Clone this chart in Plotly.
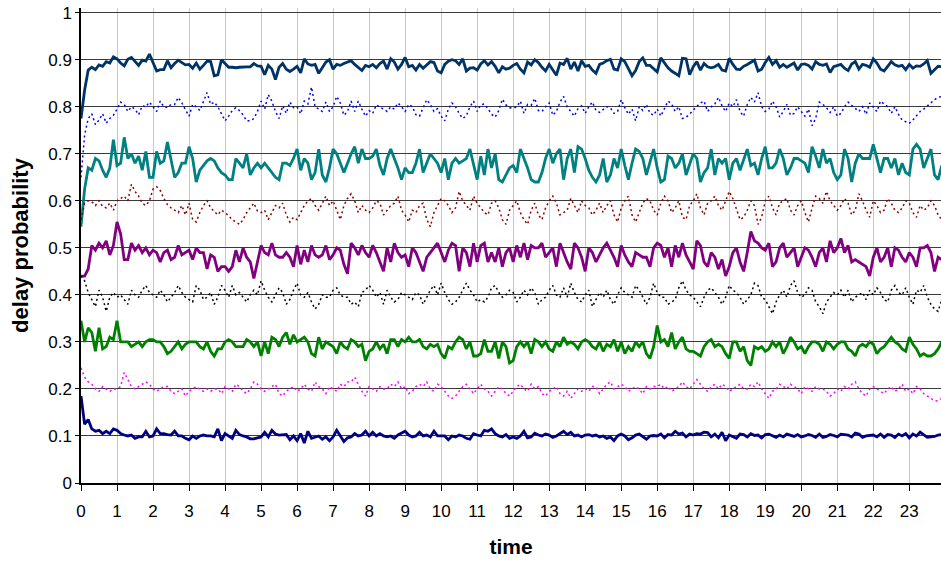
import plotly.graph_objects as go

# sampling instants: ten per hour over a day
time = [i / 10 for i in range(240)]

s_090 = [
    .775, .835, .878, .884, .879, .889, .886, .896, .893, .906,
    .902, .893, .887, .901, .905, .896, .888, .899, .897, .912,
    .893, .876, .879, .879, .898, .883, .892, .899, .894, .889,
    .890, .882, .893, .880, .888, .897, .896, .866, .868, .900,
    .892, .884, .884, .883, .884, .885, .885, .885, .892, .887,
    .886, .868, .888, .880, .858, .884, .892, .880, .875, .880,
    .886, .872, .902, .891, .888, .890, .871, .883, .895, .900,
    .880, .890, .888, .892, .895, .898, .890, .884, .877, .888,
    .885, .890, .883, .892, .897, .880, .902, .895, .880, .890,
    .905, .885, .888, .878, .890, .882, .888, .896, .894, .876,
    .872, .890, .897, .900, .898, .890, .902, .876, .882, .883,
    .878, .891, .898, .889, .896, .886, .872, .885, .880, .882,
    .888, .892, .880, .872, .895, .889, .900, .894, .884, .876,
    .890, .878, .867, .893, .890, .903, .880, .895, .876, .898,
    .886, .888, .878, .871, .890, .893, .898, .901, .880, .878,
    .902, .896, .882, .866, .877, .896, .904, .888, .888, .880,
    .874, .904, .893, .883, .876, .870, .866, .903, .902, .868,
    .885, .896, .878, .892, .885, .883, .885, .890, .878, .876,
    .903, .890, .880, .879, .886, .890, .895, .899, .876, .880,
    .894, .905, .890, .898, .884, .890, .884, .888, .893, .878,
    .890, .891, .888, .880, .896, .890, .888, .891, .873, .885,
    .888, .890, .882, .877, .891, .896, .880, .890, .888, .884,
    .902, .893, .880, .876, .886, .896, .889, .886, .888, .879,
    .890, .882, .887, .886, .891, .898, .871, .879, .886, .885,
]

s_080 = [
    .650, .740, .775, .785, .762, .772, .785, .765, .775, .782,
    .795, .810, .805, .790, .800, .795, .783, .802, .800, .810,
    .800, .790, .812, .800, .798, .805, .805, .820, .808, .795,
    .780, .805, .800, .792, .810, .830, .805, .810, .800, .786,
    .770, .780, .792, .798, .792, .783, .770, .770, .775, .790,
    .812, .795, .826, .812, .790, .775, .802, .786, .810, .798,
    .800, .785, .812, .806, .842, .800, .795, .790, .810, .790,
    .800, .822, .808, .782, .790, .812, .790, .812, .795, .780,
    .792, .786, .804, .800, .795, .790, .800, .795, .808, .800,
    .790, .805, .800, .783, .780, .798, .815, .805, .790, .796,
    .780, .770, .795, .808, .800, .786, .775, .781, .800, .812,
    .790, .804, .806, .796, .784, .778, .792, .816, .804, .798,
    .797, .800, .812, .786, .805, .803, .818, .792, .790, .800,
    .808, .782, .790, .810, .822, .800, .790, .780, .796, .802,
    .786, .800, .810, .792, .788, .795, .800, .798, .786, .790,
    .815, .798, .784, .795, .770, .800, .792, .805, .786, .782,
    .795, .780, .798, .812, .806, .790, .800, .775, .778, .784,
    .793, .800, .808, .812, .790, .800, .806, .820, .802, .790,
    .808, .800, .815, .790, .780, .805, .820, .810, .830, .800,
    .790, .795, .812, .800, .778, .790, .805, .782, .786, .800,
    .790, .780, .795, .760, .775, .810, .805, .798, .788, .800,
    .780, .786, .800, .810, .803, .796, .790, .800, .784, .808,
    .798, .790, .812, .805, .800, .786, .800, .784, .772, .768,
    .765, .772, .780, .790, .795, .802, .808, .815, .820, .822,
]

s_070 = [
    .545, .625, .670, .665, .690, .685, .665, .650, .670, .730,
    .675, .680, .735, .690, .700, .680, .695, .665, .705, .650,
    .650, .705, .680, .685, .725, .685, .650, .660, .680, .680,
    .715, .690, .640, .665, .675, .685, .690, .685, .670, .660,
    .655, .645, .645, .690, .680, .670, .700, .655, .670, .680,
    .670, .680, .670, .660, .650, .645, .680, .680, .675, .690,
    .710, .665, .690, .680, .645, .660, .710, .655, .640, .670,
    .710, .700, .680, .660, .680, .700, .715, .680, .710, .690,
    .690, .695, .710, .675, .655, .690, .710, .690, .670, .645,
    .670, .660, .660, .680, .710, .660, .680, .700, .690, .680,
    .660, .690, .645, .680, .690, .680, .685, .690, .710, .680,
    .645, .695, .655, .710, .670, .700, .645, .640, .655, .670,
    .675, .660, .710, .690, .670, .645, .640, .640, .660, .690,
    .710, .680, .700, .710, .645, .690, .710, .660, .715, .710,
    .690, .665, .650, .640, .655, .690, .640, .655, .690, .670,
    .710, .675, .645, .680, .710, .705, .690, .655, .680, .710,
    .670, .640, .645, .695, .690, .670, .680, .700, .655, .680,
    .700, .690, .640, .660, .670, .710, .655, .690, .680, .690,
    .645, .680, .690, .665, .690, .710, .675, .680, .655, .690,
    .715, .670, .670, .680, .710, .690, .655, .670, .690, .690,
    .685, .680, .660, .715, .695, .670, .710, .680, .690, .660,
    .645, .655, .710, .690, .640, .680, .700, .690, .690, .690,
    .720, .690, .660, .690, .690, .670, .690, .655, .680, .660,
    .655, .710, .720, .710, .670, .690, .710, .655, .645, .675,
]

s_060 = [
    .560, .595, .600, .598, .590, .600, .588, .585, .595, .580,
    .600, .605, .610, .600, .635, .620, .610, .595, .590, .600,
    .625, .630, .622, .605, .592, .585, .580, .575, .590, .570,
    .595, .560, .555, .575, .590, .600, .585, .578, .570, .580,
    .575, .568, .560, .555, .550, .560, .575, .585, .595, .578,
    .575, .580, .560, .575, .590, .585, .595, .570, .555, .565,
    .560, .575, .590, .600, .605, .590, .580, .595, .610, .590,
    .600, .580, .560, .590, .605, .615, .600, .575, .590, .580,
    .575, .585, .600, .595, .570, .580, .590, .595, .610, .580,
    .570, .555, .580, .575, .590, .595, .560, .545, .575, .590,
    .605, .600, .590, .575, .585, .620, .600, .590, .580, .610,
    .595, .585, .575, .570, .595, .600, .585, .560, .550, .580,
    .590, .600, .575, .560, .550, .580, .595, .570, .560, .585,
    .600, .610, .595, .570, .575, .580, .605, .590, .575, .600,
    .590, .585, .570, .580, .595, .575, .590, .600, .570, .555,
    .585, .600, .610, .570, .555, .575, .595, .605, .600, .580,
    .570, .595, .610, .600, .575, .585, .600, .565, .560, .590,
    .600, .615, .585, .570, .595, .600, .610, .590, .580, .600,
    .620, .605, .580, .560, .565, .580, .600, .590, .550, .565,
    .600, .610, .585, .570, .595, .600, .605, .580, .570, .590,
    .600, .575, .555, .585, .610, .605, .595, .620, .600, .590,
    .580, .590, .605, .595, .570, .580, .615, .600, .580, .565,
    .600, .590, .575, .580, .605, .595, .580, .575, .585, .600,
    .595, .575, .565, .590, .580, .585, .600, .590, .570, .560,
]

s_050 = [
    .440, .440, .455, .505, .495, .510, .500, .515, .485, .505,
    .555, .530, .475, .475, .510, .495, .505, .490, .500, .485,
    .495, .490, .470, .490, .495, .475, .480, .505, .485, .490,
    .495, .475, .500, .490, .490, .455, .485, .480, .450, .460,
    .460, .450, .460, .495, .470, .500, .480, .470, .435, .470,
    .505, .490, .485, .510, .485, .480, .480, .490, .480, .460,
    .505, .465, .495, .470, .505, .485, .480, .485, .505, .475,
    .485, .500, .495, .465, .445, .510, .500, .485, .505, .490,
    .480, .505, .490, .470, .450, .500, .470, .510, .490, .480,
    .485, .460, .500, .490, .470, .450, .480, .490, .500, .510,
    .490, .470, .495, .510, .505, .450, .500, .490, .460, .510,
    .470, .505, .510, .470, .490, .470, .500, .460, .490, .500,
    .470, .505, .480, .510, .475, .505, .500, .500, .510, .480,
    .490, .500, .460, .510, .490, .470, .455, .510, .500, .480,
    .450, .500, .490, .470, .485, .500, .510, .495, .480, .460,
    .505, .485, .470, .460, .490, .485, .480, .480, .460, .500,
    .510, .505, .480, .500, .460, .505, .480, .510, .485, .470,
    .455, .515, .505, .470, .460, .490, .480, .455, .475, .440,
    .460, .490, .500, .470, .450, .490, .535, .515, .510, .500,
    .495, .510, .460, .470, .500, .510, .480, .490, .500, .460,
    .480, .500, .495, .480, .460, .490, .500, .470, .515, .490,
    .500, .520, .490, .505, .470, .475, .470, .465, .460, .440,
    .480, .500, .470, .480, .500, .460, .500, .495, .480, .470,
    .490, .480, .460, .500, .500, .505, .490, .450, .480, .475,
]

s_040 = [
    .440, .430, .405, .390, .375, .410, .395, .365, .395, .405,
    .395, .400, .390, .380, .410, .400, .395, .410, .420, .405,
    .400, .395, .410, .400, .385, .395, .405, .420, .405, .395,
    .390, .385, .420, .410, .390, .395, .405, .380, .395, .420,
    .410, .395, .420, .400, .405, .395, .385, .400, .410, .400,
    .430, .410, .395, .385, .400, .415, .405, .380, .390, .410,
    .425, .400, .395, .405, .385, .370, .380, .400, .395, .395,
    .410, .415, .400, .395, .395, .380, .385, .375, .405, .410,
    .420, .410, .395, .405, .380, .410, .395, .385, .390, .405,
    .400, .395, .390, .405, .400, .380, .395, .410, .420, .400,
    .425, .405, .390, .380, .385, .395, .410, .425, .410, .400,
    .385, .390, .385, .395, .415, .420, .405, .395, .400, .410,
    .405, .385, .395, .410, .400, .415, .405, .380, .390, .395,
    .410, .420, .400, .395, .415, .395, .425, .405, .390, .385,
    .400, .410, .375, .390, .405, .395, .410, .390, .380, .400,
    .415, .405, .400, .395, .420, .410, .395, .380, .395, .425,
    .405, .395, .395, .380, .385, .390, .415, .430, .410, .400,
    .395, .385, .375, .395, .410, .415, .405, .395, .380, .395,
    .420, .410, .405, .395, .380, .390, .400, .425, .420, .395,
    .390, .375, .360, .385, .400, .410, .395, .420, .430, .405,
    .395, .400, .415, .410, .385, .375, .360, .385, .395, .405,
    .400, .410, .395, .410, .385, .395, .400, .405, .390, .410,
    .400, .415, .405, .390, .385, .410, .420, .405, .400, .415,
    .395, .380, .410, .405, .420, .395, .380, .370, .365, .390,
]

s_030 = [
    .345, .300, .330, .320, .280, .330, .285, .290, .310, .305,
    .345, .300, .300, .300, .290, .295, .300, .290, .300, .305,
    .305, .300, .300, .290, .275, .280, .290, .300, .285, .295,
    .300, .300, .300, .290, .285, .300, .280, .270, .285, .285,
    .300, .305, .300, .290, .290, .290, .305, .300, .290, .300,
    .270, .300, .275, .310, .305, .290, .310, .320, .295, .315,
    .300, .305, .310, .300, .275, .270, .310, .285, .300, .295,
    .290, .275, .300, .290, .285, .305, .300, .290, .295, .260,
    .280, .285, .300, .285, .295, .275, .305, .305, .290, .305,
    .300, .310, .300, .300, .305, .290, .285, .295, .290, .295,
    .275, .265, .290, .285, .300, .310, .305, .285, .300, .270,
    .270, .275, .305, .280, .280, .300, .265, .300, .290, .255,
    .260, .290, .300, .290, .300, .275, .305, .300, .290, .300,
    .285, .280, .300, .290, .310, .295, .300, .295, .285, .300,
    .305, .300, .290, .285, .300, .280, .295, .290, .305, .280,
    .300, .275, .290, .280, .300, .290, .300, .275, .265, .290,
    .335, .300, .305, .290, .320, .285, .300, .310, .285, .280,
    .280, .275, .270, .290, .300, .305, .290, .295, .290, .275,
    .265, .300, .300, .280, .290, .260, .250, .290, .285, .290,
    .280, .285, .300, .290, .300, .275, .290, .310, .300, .285,
    .290, .275, .290, .300, .300, .295, .280, .300, .295, .285,
    .295, .300, .300, .285, .280, .270, .290, .295, .290, .300,
    .295, .275, .285, .290, .300, .310, .300, .295, .285, .280,
    .310, .295, .285, .270, .275, .270, .270, .275, .285, .300,
]

s_020 = [
    .245, .225, .215, .210, .200, .195, .205, .200, .195, .200,
    .200, .205, .235, .220, .205, .200, .205, .210, .215, .210,
    .200, .195, .200, .205, .205, .195, .190, .195, .200, .185,
    .195, .200, .205, .200, .195, .200, .195, .200, .200, .190,
    .205, .200, .195, .210, .205, .195, .190, .200, .215, .210,
    .200, .195, .200, .205, .210, .190, .185, .195, .200, .205,
    .195, .200, .210, .200, .195, .215, .205, .200, .190, .205,
    .200, .195, .210, .205, .215, .215, .225, .210, .195, .185,
    .205, .200, .195, .205, .200, .200, .210, .205, .215, .200,
    .205, .190, .195, .205, .210, .205, .215, .200, .195, .210,
    .205, .195, .185, .180, .185, .195, .205, .210, .200, .190,
    .200, .210, .200, .195, .185, .195, .205, .200, .190, .185,
    .195, .205, .210, .200, .195, .210, .200, .205, .190, .185,
    .195, .200, .205, .190, .185, .195, .180, .190, .200, .195,
    .200, .195, .205, .205, .190, .200, .210, .215, .200, .205,
    .210, .205, .195, .200, .205, .200, .190, .205, .200, .205,
    .205, .210, .200, .205, .195, .200, .205, .215, .205, .200,
    .210, .220, .210, .200, .195, .205, .210, .200, .210, .205,
    .195, .200, .205, .210, .200, .200, .210, .205, .215, .200,
    .190, .180, .195, .200, .210, .205, .200, .210, .205, .200,
    .190, .205, .200, .195, .205, .200, .200, .195, .185, .190,
    .200, .195, .205, .200, .210, .215, .200, .190, .185, .200,
    .205, .200, .195, .190, .200, .205, .195, .200, .210, .195,
    .200, .190, .205, .200, .190, .185, .180, .175, .175, .180,
]

s_010 = [
    .185, .125, .135, .115, .110, .112, .105, .110, .105, .115,
    .112, .105, .102, .100, .102, .095, .098, .098, .110, .098,
    .100, .115, .105, .105, .103, .102, .110, .100, .100, .095,
    .092, .100, .095, .100, .102, .100, .100, .098, .115, .090,
    .105, .100, .095, .112, .103, .100, .098, .094, .094, .096,
    .098, .108, .098, .112, .104, .102, .103, .103, .092, .100,
    .090, .105, .085, .110, .095, .098, .100, .093, .098, .090,
    .098, .112, .100, .088, .096, .098, .105, .100, .102, .110,
    .100, .108, .100, .105, .100, .098, .100, .095, .102, .106,
    .110, .102, .098, .100, .108, .100, .102, .098, .110, .100,
    .100, .100, .092, .100, .098, .102, .100, .095, .093, .105,
    .102, .100, .112, .110, .115, .105, .100, .098, .103, .095,
    .098, .095, .100, .110, .096, .098, .106, .102, .100, .104,
    .102, .097, .100, .106, .110, .103, .108, .100, .102, .098,
    .102, .103, .100, .102, .098, .100, .095, .098, .090, .100,
    .104, .100, .092, .096, .102, .104, .098, .093, .100, .101,
    .100, .104, .096, .103, .102, .110, .104, .106, .098, .104,
    .102, .105, .104, .108, .107, .098, .104, .096, .108, .090,
    .102, .098, .095, .104, .103, .098, .105, .101, .102, .096,
    .103, .104, .100, .097, .102, .098, .104, .101, .099, .103,
    .098, .100, .103, .101, .097, .104, .097, .099, .103, .101,
    .098, .104, .103, .102, .098, .106, .104, .097, .100, .101,
    .102, .098, .104, .097, .103, .102, .097, .104, .100, .105,
    .096, .104, .100, .108, .103, .097, .098, .099, .102, .103,
]

y_ticks = [i / 10 for i in range(11)]
y_labels = ["0", "0.1", "0.2", "0.3", "0.4", "0.5", "0.6", "0.7", "0.8", "0.9", "1"]
x_ticks = list(range(24))

series = [
    (s_090, "#003366", "solid", 2.8),
    (s_080, "#0000FF", "2px,3px", 1.5),
    (s_070, "#008080", "solid", 2.8),
    (s_060, "#8B0000", "2px,3px", 1.5),
    (s_050, "#800080", "solid", 2.8),
    (s_040, "#000000", "2px,3px", 1.5),
    (s_030, "#008000", "solid", 2.8),
    (s_020, "#FF00FF", "2px,3px", 1.5),
    (s_010, "#000080", "solid", 2.8),
]

fig = go.Figure()
for vals, color, dash, width in series:
    fig.add_trace(go.Scatter(
        x=time, y=vals, mode="lines",
        line=dict(color=color, dash=dash, width=width),
        showlegend=False,
    ))

font = "Liberation Sans, Arial, sans-serif"
fig.update_layout(
    width=941, height=563,
    margin=dict(l=81, r=0, t=8, b=80),
    paper_bgcolor="white", plot_bgcolor="white",
    font=dict(family=font, size=17, color="black"),
    xaxis=dict(
        range=[0, 23.88], tickvals=x_ticks, ticktext=[str(v) for v in x_ticks],
        showgrid=True, gridcolor="#c8c8c8", gridwidth=1,
        showline=True, linecolor="black", linewidth=1.5,
        ticks="outside", ticklen=6, tickcolor="black",
        ticklabelstandoff=6,
        zeroline=False,
        title=dict(text="<b>time</b>", font=dict(size=21), standoff=19),
    ),
    yaxis=dict(
        range=[0, 1.01], tickvals=y_ticks, ticktext=y_labels,
        showgrid=True, gridcolor="#3a3a3a", gridwidth=1,
        showline=True, linecolor="black", linewidth=1.5,
        ticks="outside", ticklen=4, tickcolor="black",
        zeroline=False,
        title=dict(text="<b>delay probability</b>", font=dict(size=22), standoff=14),
    ),
)

fig.write_html("out.html")
